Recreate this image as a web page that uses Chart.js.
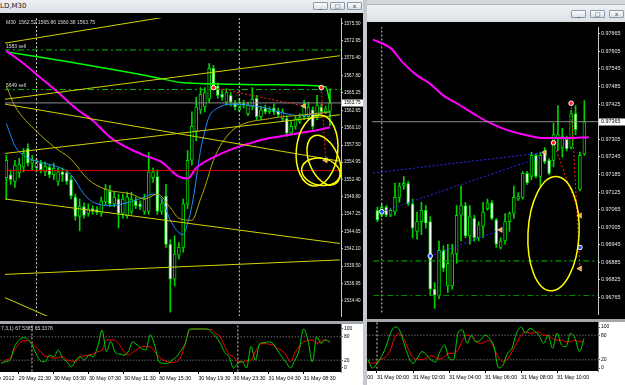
<!DOCTYPE html>
<html>
<head>
<meta charset="utf-8">
<script src="https://cdn.jsdelivr.net/npm/chart.js@4.4.1/dist/chart.umd.min.js"></script>
<style>
  body { margin: 0; width: 625px; height: 385px; overflow: hidden; position: relative; background: #c4c9cf; }
  .box { position: absolute; }
  .btn { position: absolute; width: 13px; height: 6px; border: 1px solid #8d99a8; border-radius: 1px;
         background: linear-gradient(#fbfcfd, #dbe0e6); font: 6px "DejaVu Sans", sans-serif; color: #333;
         text-align: center; line-height: 5px; }
  canvas { position: absolute; }
</style>
</head>
<body>
<!-- left window frame -->
<div class="box" style="left:0;top:0;width:363px;height:385px;background:#e2e5e9;"></div>
<div class="box" style="left:0;top:0;width:363px;height:13px;background:linear-gradient(#eef0f3,#dce0e5);"></div>
<div class="box" style="left:0;top:2px;font:7px 'DejaVu Sans',sans-serif;color:#222;">LD,M30</div>
<div class="btn" style="left:313px;top:2px;">_</div>
<div class="btn" style="left:330px;top:2px;">&#9633;</div>
<div class="btn" style="left:347px;top:2px;">x</div>
<div class="box" style="left:0;top:321px;width:363px;height:3px;background:#a4a8ad;"></div>

<!-- right window frame -->
<div class="box" style="left:367px;top:0;width:258px;height:385px;background:#e2e5e9;"></div>
<div class="box" style="left:367px;top:0;width:258px;height:4px;background:#d3d7dc;border-bottom:1px solid #b0b5bb;"></div>
<div class="box" style="left:367px;top:5px;width:258px;height:17px;background:linear-gradient(#eef0f3,#dce0e5);"></div>
<div class="btn" style="left:571px;top:10px;">_</div>
<div class="btn" style="left:590px;top:10px;">&#9633;</div>
<div class="btn" style="left:609px;top:10px;">x</div>
<div class="box" style="left:367px;top:319px;width:258px;height:3px;background:#a4a8ad;"></div>

<canvas id="leftMain" width="363" height="308" style="left:0;top:13px"></canvas>
<canvas id="leftOsc" width="363" height="61" style="left:0;top:324px"></canvas>
<canvas id="rightMain" width="258" height="297" style="left:367px;top:22px"></canvas>
<canvas id="rightOsc" width="258" height="63" style="left:367px;top:322px"></canvas>

<script>
// ---------- left chart (GOLD, M30) ----------
const leftOpen = [1552.65,1553.09,1552.08,1553.37,1554.24,1556.97,1554.81,1554.09,1554.81,1553.52,
  1554.24,1553.09,1552.08,1553.52,1553.37,1552.37,1549.78,1546.91,1548.34,1547.34,
  1548.06,1547.91,1547.34,1549.06,1550.64,1548.77,1549.49,1547.34,1547.05,1547.63,
  1549.21,1548.77,1547.63,1547.63,1552.65,1552.80,1547.63,1549.93,1542.74,1537.57,
  1541.16,1542.31,1548.77,1555.24,1559.55,1562.71,1563.14,1564.29,1568.89,1566.30,
  1565.01,1563.86,1564.87,1563.72,1562.71,1563.72,1562.14,1563.14,1564.44,1561.71,
  1563.00,1562.43,1563.00,1562.57,1561.42,1561.42,1559.27,1560.27,1560.99,1561.71,
  1561.71,1562.71,1561.71,1563.14,1562.43,1562.52];
const leftHigh = [1555.96,1553.80,1555.24,1555.53,1556.97,1557.68,1555.96,1555.53,1555.24,1554.95,
  1554.52,1554.81,1554.09,1554.09,1553.80,1552.94,1550.21,1549.49,1548.92,1548.77,
  1548.49,1548.34,1549.78,1551.65,1551.51,1550.50,1550.21,1550.21,1550.50,1550.50,
  1549.78,1549.21,1550.21,1556.39,1554.09,1553.80,1549.49,1551.65,1543.46,1544.03,
  1543.03,1549.49,1556.68,1562.43,1564.58,1566.02,1566.02,1569.61,1569.32,1566.74,
  1565.59,1565.87,1565.30,1564.15,1564.44,1564.15,1563.86,1566.02,1564.87,1563.29,
  1563.43,1563.14,1563.57,1563.00,1562.86,1561.85,1560.99,1561.85,1562.14,1564.15,
  1563.86,1563.14,1564.87,1563.57,1563.29,1565.86];
const leftLow = [1549.49,1551.65,1551.22,1552.65,1553.52,1554.38,1553.80,1553.52,1553.37,1552.94,
  1552.65,1552.37,1551.51,1552.08,1551.65,1549.49,1546.33,1544.75,1546.62,1546.91,
  1547.20,1547.20,1546.91,1548.63,1548.34,1548.34,1545.18,1546.62,1546.62,1547.20,
  1548.06,1547.91,1547.20,1547.20,1551.94,1547.20,1547.20,1542.31,1532.68,1536.56,
  1540.59,1541.59,1548.06,1554.52,1558.12,1562.14,1562.43,1563.86,1565.87,1564.44,
  1564.15,1563.43,1563.29,1562.71,1562.43,1563.00,1561.85,1562.71,1561.28,1561.28,
  1562.14,1562.14,1561.99,1561.71,1560.99,1558.83,1558.98,1559.84,1560.70,1561.28,
  1561.28,1559.84,1561.28,1562.14,1562.14,1560.38];
const leftClose = [1555.24,1552.37,1554.52,1554.67,1556.25,1554.81,1555.24,1554.95,1553.80,1554.38,
  1553.09,1554.09,1553.52,1553.09,1552.08,1549.93,1546.91,1548.34,1547.05,1548.06,
  1547.63,1547.48,1549.21,1550.93,1548.77,1549.78,1547.34,1549.49,1549.78,1549.49,
  1548.49,1548.34,1549.49,1553.52,1553.52,1547.63,1548.77,1542.74,1537.57,1541.30,
  1542.31,1548.77,1555.24,1560.27,1563.14,1565.01,1565.30,1568.89,1566.30,1564.87,
  1564.58,1565.30,1563.86,1563.14,1563.86,1563.43,1563.43,1564.29,1561.71,1562.71,
  1562.43,1562.71,1562.43,1561.99,1562.43,1559.27,1560.27,1561.42,1561.56,1563.43,
  1563.14,1560.27,1563.43,1562.43,1562.86,1563.75];

const leftSlowMaBars = [0,4,8,12,16,20,24,28,32,36,40,42,44,48,52,56,60,64,68,72,75];
const leftSlowMa = [1571.48,1569.61,1567.45,1565.30,1563.00,1561.13,1558.69,1557.11,1555.96,1554.95,
  1552.80,1552.51,1554.09,1555.67,1556.82,1557.68,1558.40,1558.83,1559.27,1559.70,1560.13];
const leftFastMaBars = [0,2,4,8,12,15,18,20,24,28,32,34,36,38,40,41,42,43,44,45,46,47,49,52,56,60,64,68,72,75];
const leftFastMa = [1560.70,1557.40,1555.96,1554.95,1554.24,1553.09,1550.21,1549.06,1548.49,1548.92,
  1549.78,1550.21,1549.49,1546.33,1544.46,1544.18,1545.90,1548.49,1552.37,1556.68,
  1559.55,1561.71,1563.00,1563.57,1563.43,1563.00,1562.28,1561.85,1562.14,1562.43];
const leftMidMaBars = [0,2,7,11,15,19,23,29,32,35,38,40,43,45,46,48,50,53,61,69,75];
const leftMidMa = [1566.30,1563.29,1559.55,1557.25,1555.39,1552.37,1550.93,1550.21,1549.49,1550.21,
  1548.20,1546.62,1546.33,1549.49,1551.22,1555.24,1557.83,1559.98,1561.42,1561.99,1562.43];
const leftBandBars = [0,14,27,34,41,48,62,74,75];
const leftBand = [1571.33,1569.90,1568.46,1567.60,1566.74,1566.59,1566.45,1566.16,1563.86];

const leftTrendBars = [[-0.3,40],[-0.3,77.3],[-0.3,77.3],[-0.3,77.3],[-0.3,77.3],[-0.3,77.3],[-0.3,15]];
const leftTrendPrices = [[1572.63,1576.84],[1564.29,1570.76],[1563.57,1555.10],[1556.25,1561.99],
  [1549.49,1542.88],[1538.29,1540.44],[1534.84,1530.53]];
const leftSellNames = ['1583 sell', '5649 sell'];
const leftSellPrices = [1571.62, 1565.73];
const leftBid = 1563.75;
const leftRedLevel = 1553.7;
const leftTradeBars = [[48,69],[73,74]];
const leftTradePrices = [[1566.02,1563.29],[1566.02,1555.24]];
const leftOrderBars = [48,73];
const leftOrderPrices = [1566.02,1566.02];
const leftCloseBars = [69,74];
const leftClosePrices = [1563.29,1555.24];
const leftCircles = [
  { bar: 72, price: 1556.68, bars: 4.8, range: 5.3, tilt: 0.1 },
  { bar: 73.6, price: 1555.24, bars: 3.4, range: 3.9, tilt: -0.4 },
  { bar: 72.9, price: 1553.52, bars: 4.5, range: 2.0, tilt: 0.2 }
];
const leftSeparators = [7, 54];
const leftPriceTicks = [1575.50,1572.95,1570.40,1567.80,1565.25,1562.65,1560.10,1557.50,1554.95,
  1552.40,1549.80,1547.25,1544.65,1542.10,1539.50,1536.95,1534.40,1531.80];
const leftTimeBars = [-4,4,12,20,28,36,45,53,61,69];
const leftTimeLabels = ['29 May 2012','29 May 22:30','30 May 03:30','30 May 07:30','30 May 11:30',
  '30 May 15:30','30 May 19:30','30 May 23:30','31 May 04:30','31 May 08:30'];
const leftStochMain = [12,16,20,55,70,78,74,60,35,18, 16,33,29,46,25,16,3,20,29,20,
  33,29,55,97,42,68,40,36,33,42, 67,59,50,46,85,59,16,12,12,20,
  29,45,63,100,100,100,100,100,92,80, 63,40,29,0,12,16,0,55,20,63,
  65,67,63,46,29,15,0,20,46,100, 72,16,80,63,72,67.5];
const leftStochSignal = [12,20,25,46,62,70,70,63,52,42, 30,29,25,27,29,20,18,16,29,31,
  33,36,42,46,72,72,70,60,42,33, 40,48,54,55,54,42,29,20,16,14,
  16,29,63,97,100,100,100,99,98,88, 80,55,35,29,16,16,18,20,42,59,
  63,61,59,50,45,33,16,38,55,67, 70,72,63,68,72,65.3];

// ---------- right chart (M15) ----------
const rightOpen = [.97063,.97046,.97074,.97046,.97057,.97107,.97148,.97154,.97085,.96991,
  .97024,.97063,.97024,.96794,.96772,.96926,.96805,.96805,.96915,.97046,
  .97079,.96975,.97035,.96969,.97008,.97068,.97088,.97030,.96936,.96958,
  .97024,.97052,.97101,.97107,.97189,.97178,.97250,.97178,.97266,.97233,
  .97233,.97310,.97277,.97305,.97277,.97393,.97134,.97255];
const rightHigh = [.97074,.97085,.97079,.97068,.97156,.97156,.97178,.97162,.97101,.97057,
  .97090,.97079,.97041,.96816,.96958,.96942,.96947,.96947,.97079,.97145,
  .97090,.97079,.97046,.97024,.97090,.97101,.97096,.97035,.96969,.97052,
  .97057,.97145,.97123,.97195,.97195,.97261,.97255,.97261,.97277,.97239,
  .97360,.97420,.97343,.97316,.97404,.97420,.97261,.97437];
const rightLow = [.97024,.97041,.97041,.97041,.97046,.97090,.97134,.97079,.96969,.96964,
  .96980,.97002,.96772,.96728,.96761,.96854,.96783,.96794,.96882,.96958,
  .96969,.96947,.96958,.96958,.96969,.97063,.97030,.96936,.96931,.96947,
  .96991,.97035,.97096,.97101,.97151,.97167,.97173,.97145,.97222,.97184,
  .97211,.97266,.97244,.97266,.97272,.97321,.97129,.97250];
const rightClose = [.97030,.97074,.97046,.97063,.97107,.97145,.97154,.97085,.97002,.97024,
  .97063,.97019,.96794,.96772,.96926,.96865,.96882,.96915,.97046,.97079,
  .96975,.97041,.96969,.97013,.97057,.97088,.97035,.96947,.96958,.97024,
  .97052,.97107,.97110,.97189,.97156,.97250,.97178,.97250,.97228,.97189,
  .97321,.97321,.97316,.97272,.97393,.97338,.97250,.97365];

const rightSlowMaBars = [-1,3,6,9,12,15,18,22,25,29,33,38,43,48];
const rightSlowMa = [.97645,.97616,.97563,.97523,.97494,.97454,.97428,.97391,.97365,.97339,
  .97322,.97309,.97309,.97312];
const rightTrendBars = [[-1,38],[1,37],[12,28]];
const rightTrendPrices = [[.97190,.97260],[.97058,.97243],[.96907,.96996]];
const rightTradeBars = [[40,46],[44,46]];
const rightTradePrices = [[.97293,.97045],[.97428,.96864]];
const rightOrderBars = [40,44];
const rightOrderPrices = [.97293,.97428];
const rightPendingBars = [1,12,46];
const rightPendingPrices = [.97058,.96907,.96936];
const rightCloseBars = [38,28,46,46];
const rightClosePrices = [.97260,.96996,.97045,.96864];
const rightLevels = [.96890, .96772];
const rightBid = 0.97365;
const rightCircles = [{ bar: 40, price: .96983, bars: 5.8, range: .00195, tilt: 0.05 }];
const rightSeparators = [1];
const rightPriceTicks = [.97665,.97605,.97545,.97485,.97425,.97365,.97305,.97245,.97185,.97125,
  .97065,.97005,.96945,.96885,.96825,.96765,.96705];
const rightTimeBars = [-7,1,9,17,25,33,41];
const rightTimeLabels = ['30 May 23:00','31 May 00:00','31 May 02:00','31 May 04:00','31 May 06:00',
  '31 May 08:00','31 May 10:00'];
const rightStochMain = [20,0,11,28,52,85,100,93,60,28,11,25,40,32,20,15,40,56,24,20,85,93,60,80,
  64,68,80,72,52,0,7,36,48,85,100,85,97,90,80,60,80,48,85,56,52,85,72,40,72];
const rightStochSignal = [15,11,15,22,28,44,76,85,70,45,25,22,20,24,30,26,22,28,36,36,44,68,80,76,
  64,60,64,68,48,25,16,22,40,60,80,88,85,86,88,80,80,72,68,68,64,64,68,64,64];

// ---------- helpers ----------
const FONT = '"Liberation Sans", Arial, sans-serif';
const CANDLE = '#00d400';
const TREND = '#d2d200';

function candles(open, high, low, close) {
    const wicks = open.map((o, i) => ({ x: i, y: [low[i], high[i]] }));
    const bodies = open.map((o, i) => ({ x: i, y: [Math.min(o, close[i]), Math.max(o, close[i])] }));
    return [
        { type: 'bar', data: wicks, backgroundColor: CANDLE, barThickness: 1, grouped: false, order: 6 },
        { type: 'bar', data: bodies, backgroundColor: open.map((o, i) => close[i] >= o ? '#000000' : '#ffffff'),
          borderColor: CANDLE, borderWidth: 1, borderSkipped: false, barThickness: 3, minBarLength: 2,
          grouped: false, order: 5 }
    ];
}

function series(bars, values, color, width, extra) {
    return Object.assign({
        type: 'line', data: bars.map((b, i) => ({ x: b, y: values[i] })),
        borderColor: color, borderWidth: width, pointRadius: 0, fill: false, order: 3,
        cubicInterpolationMode: 'monotone'
    }, extra || {});
}

function segments(barPairs, pricePairs, color, width, dash, order) {
    return barPairs.map((pair, i) => series(pair, pricePairs[i], color, width,
        { borderDash: dash, order: order, cubicInterpolationMode: 'default' }));
}

function levels(prices, color, width, dash, order) {
    return prices.map(p => series([-20, 120], [p, p], color, width, { borderDash: dash, order: order }));
}

function separators(bars, lo, hi) {
    return bars.map(b => series([b, b], [lo, hi], '#d0d0d0', 1, { borderDash: [2, 2], order: 4 }));
}

function markers(bars, prices, style) {
    return Object.assign({
        type: 'line', showLine: false, data: bars.map((b, i) => ({ x: b, y: prices[i] })), order: 0,
        pointRadius: 2.3, pointBorderWidth: 1, pointBorderColor: '#ffffff'
    }, style);
}

function overlay(cfg) {
    return {
        id: 'overlay',
        beforeDraw(chart) {
            const { ctx, chartArea: a } = chart;
            ctx.save();
            ctx.fillStyle = cfg.outside;
            ctx.fillRect(0, 0, chart.width, chart.height);
            ctx.fillStyle = '#000000';
            ctx.fillRect(a.left, a.top, a.right - a.left, a.bottom - a.top);
            ctx.restore();
        },
        afterDatasetsDraw(chart) {
            const { ctx, chartArea: a, scales: { x, y } } = chart;
            ctx.save();
            ctx.beginPath();
            ctx.rect(a.left, a.top, a.right - a.left, a.bottom - a.top);
            ctx.clip();
            (cfg.circles || []).forEach(e => {
                const cx = x.getPixelForValue(e.bar), cy = y.getPixelForValue(e.price);
                const rx = Math.abs(x.getPixelForValue(e.bar + e.bars) - cx);
                const ry = Math.abs(y.getPixelForValue(e.price + e.range) - cy);
                ctx.beginPath();
                ctx.ellipse(cx, cy, rx, ry, e.tilt, 0, Math.PI * 2);
                ctx.strokeStyle = '#ffff00';
                ctx.lineWidth = 1.5;
                ctx.stroke();
            });
            ctx.fillStyle = '#dcdcdc';
            ctx.font = '5px ' + FONT;
            ctx.textAlign = 'left';
            ctx.textBaseline = 'bottom';
            (cfg.noteNames || []).forEach((t, i) => ctx.fillText(t, a.left + 1, y.getPixelForValue(cfg.notePrices[i]) - 1));
            if (cfg.header) {
                ctx.textBaseline = 'top';
                ctx.fillText(cfg.header, a.left + 1, a.top + 2);
            }
            ctx.restore();
        },
        afterDraw(chart) {
            if (cfg.bid === undefined) return;
            const { ctx, chartArea: a, scales: { y } } = chart;
            const py = Math.round(y.getPixelForValue(cfg.bid));
            ctx.save();
            ctx.fillStyle = '#ffffff';
            ctx.fillRect(a.right + 1, py - 3.5, chart.width - a.right - 1, 7);
            ctx.fillStyle = '#000000';
            ctx.font = cfg.fontSize + 'px ' + FONT;
            ctx.textBaseline = 'middle';
            ctx.fillText(cfg.bid.toFixed(cfg.decimals), a.right + 3, py);
            ctx.restore();
        }
    };
}

function priceChart(id, datasets, cfg) {
    return new Chart(document.getElementById(id), {
        type: 'bar',
        data: { datasets: datasets },
        plugins: [overlay(Object.assign({ outside: '#000000' }, cfg))],
        options: {
            responsive: false, animation: false, events: [], devicePixelRatio: 1,
            layout: { padding: 0 },
            plugins: { legend: { display: false }, tooltip: { enabled: false } },
            scales: {
                x: { type: 'linear', display: false, min: cfg.xMin, max: cfg.xMax, offset: false },
                y: {
                    type: 'linear', position: 'right', min: cfg.yMin, max: cfg.yMax,
                    afterFit: s => { s.width = cfg.axisWidth; s.paddingTop = 0; s.paddingBottom = 0; },
                    afterBuildTicks: s => { s.ticks = cfg.ticks.filter(v => v >= cfg.yMin && v <= cfg.yMax).map(v => ({ value: v })); },
                    grid: { drawOnChartArea: false, drawTicks: true, tickLength: 2, color: '#c8c8c8' },
                    border: { display: true, color: '#c8c8c8' },
                    ticks: { autoSkip: false, padding: 1, color: '#e6e6e6', font: { family: FONT, size: cfg.fontSize },
                             callback: v => v.toFixed(cfg.decimals) }
                }
            }
        }
    });
}

function stochChart(id, datasets, cfg) {
    return new Chart(document.getElementById(id), {
        type: 'line',
        data: { datasets: datasets },
        plugins: [overlay(Object.assign({ outside: '#ffffff' }, cfg))],
        options: {
            responsive: false, animation: false, events: [], devicePixelRatio: 1,
            layout: { padding: 0 },
            plugins: { legend: { display: false }, tooltip: { enabled: false } },
            scales: {
                x: {
                    type: 'linear', position: 'bottom', min: cfg.xMin, max: cfg.xMax, offset: false,
                    afterFit: s => { s.height = cfg.timeHeight; s.paddingLeft = 0; s.paddingRight = 0; },
                    afterBuildTicks: s => { s.ticks = cfg.timeBars.map(v => ({ value: v })); },
                    grid: { drawOnChartArea: false, drawTicks: true, tickLength: 2, color: '#000000' },
                    border: { display: false },
                    ticks: { autoSkip: false, maxRotation: 0, minRotation: 0, align: 'start', padding: 1,
                             color: '#000000', font: { family: FONT, size: 5.3 },
                             callback: (v, i) => cfg.timeLabels[i] }
                },
                y: {
                    type: 'linear', position: 'right', min: cfg.yMin, max: cfg.yMax,
                    afterFit: s => { s.width = cfg.axisWidth; s.paddingTop = 0; s.paddingBottom = 0; },
                    afterBuildTicks: s => { s.ticks = [100, 80, 20, 0].map(v => ({ value: v })); },
                    grid: { drawOnChartArea: false, drawTicks: true, tickLength: 2, color: '#606060' },
                    border: { display: true, color: '#808080' },
                    ticks: { autoSkip: false, padding: 1, color: '#000000', font: { family: FONT, size: 5 } }
                }
            }
        }
    });
}

// ---------- left window ----------
const leftX = { xMin: -0.3, xMax: 77.55 };
priceChart('leftMain', [].concat(
    candles(leftOpen, leftHigh, leftLow, leftClose),
    separators(leftSeparators, 1500, 1600),
    [series(leftSlowMaBars, leftSlowMa, '#ff00ff', 2),
     series(leftMidMaBars, leftMidMa, '#b4a800', 1),
     series(leftFastMaBars, leftFastMa, '#1e8cff', 1),
     series(leftBandBars, leftBand, '#00ff00', 1.5)],
    segments(leftTrendBars, leftTrendPrices, TREND, 1, [], 2),
    levels(leftSellPrices, '#00c000', 1, [6, 3, 2, 3], 2),
    levels([leftBid], '#8c8c8c', 1, [], 2),
    levels([leftRedLevel], '#e00000', 1, [], 2),
    segments(leftTradeBars, leftTradePrices, '#ff2020', 1, [2, 2], 1),
    [markers(leftOrderBars, leftOrderPrices, { pointStyle: 'circle', pointBackgroundColor: '#ff2828' }),
     markers(leftCloseBars, leftClosePrices, { pointStyle: 'triangle', pointRotation: 270, pointRadius: 3,
                                               pointBackgroundColor: '#ffa020', pointBorderWidth: 0.5 })]
), Object.assign({
    yMin: 1532.11, yMax: 1576.36, axisWidth: 22, ticks: leftPriceTicks, decimals: 2, fontSize: 4.6,
    bid: leftBid, circles: leftCircles, noteNames: leftSellNames, notePrices: leftSellPrices,
    header: 'M30  1562.52 1565.86 1560.38 1563.75'
}, leftX));

stochChart('leftOsc', [].concat(
    separators(leftSeparators, -50, 150),
    levels([80, 20], '#9a9a9a', 1, [1, 2], 4),
    [series(leftStochSignal.map((v, i) => i), leftStochSignal, '#ff0000', 1, { order: 2 }),
     series(leftStochMain.map((v, i) => i), leftStochMain, '#00d000', 1, { order: 1 })]
), Object.assign({
    yMin: -10.3, yMax: 112.8, axisWidth: 22, timeHeight: 13,
    timeBars: leftTimeBars, timeLabels: leftTimeLabels, header: '7,3,1) 67.5385 65.3378'
}, leftX));

// ---------- right window ----------
const rightX = { xMin: -1.22, xMax: 50.1 };
priceChart('rightMain', [].concat(
    candles(rightOpen, rightHigh, rightLow, rightClose),
    separators(rightSeparators, 0.9, 1.0),
    [series(rightSlowMaBars, rightSlowMa, '#ff00ff', 2)],
    segments(rightTrendBars, rightTrendPrices, '#2828ff', 1, [2, 2], 2),
    levels([rightLevels[0]], '#00c000', 1, [6, 3, 2, 3], 2),
    levels([rightLevels[1]], '#008c00', 1, [6, 3, 2, 3], 2),
    levels([rightBid], '#8c8c8c', 1, [], 2),
    segments(rightTradeBars, rightTradePrices, '#ff2020', 1, [2, 2], 1),
    [markers(rightOrderBars, rightOrderPrices, { pointStyle: 'circle', pointBackgroundColor: '#ff2828' }),
     markers(rightPendingBars, rightPendingPrices, { pointStyle: 'circle', pointBackgroundColor: '#2040ff' }),
     markers(rightCloseBars, rightClosePrices, { pointStyle: 'triangle', pointRotation: 270, pointRadius: 3,
                                                 pointBackgroundColor: '#ffa020', pointBorderWidth: 0.5 })]
), Object.assign({
    yMin: 0.967090, yMax: 0.976881, axisWidth: 27, ticks: rightPriceTicks, decimals: 5, fontSize: 5.4,
    bid: rightBid, circles: rightCircles
}, rightX));

stochChart('rightOsc', [].concat(
    separators(rightSeparators, -50, 150),
    levels([80, 20], '#9a9a9a', 1, [1, 2], 4),
    [series(rightStochSignal.map((v, i) => i - 1), rightStochSignal, '#ff0000', 1, { order: 2 }),
     series(rightStochMain.map((v, i) => i - 1), rightStochMain, '#00d000', 1, { order: 1 })]
), Object.assign({
    yMin: -7.3, yMax: 112.2, axisWidth: 27, timeHeight: 14,
    timeBars: rightTimeBars, timeLabels: rightTimeLabels
}, rightX));
</script>
</body>
</html>
